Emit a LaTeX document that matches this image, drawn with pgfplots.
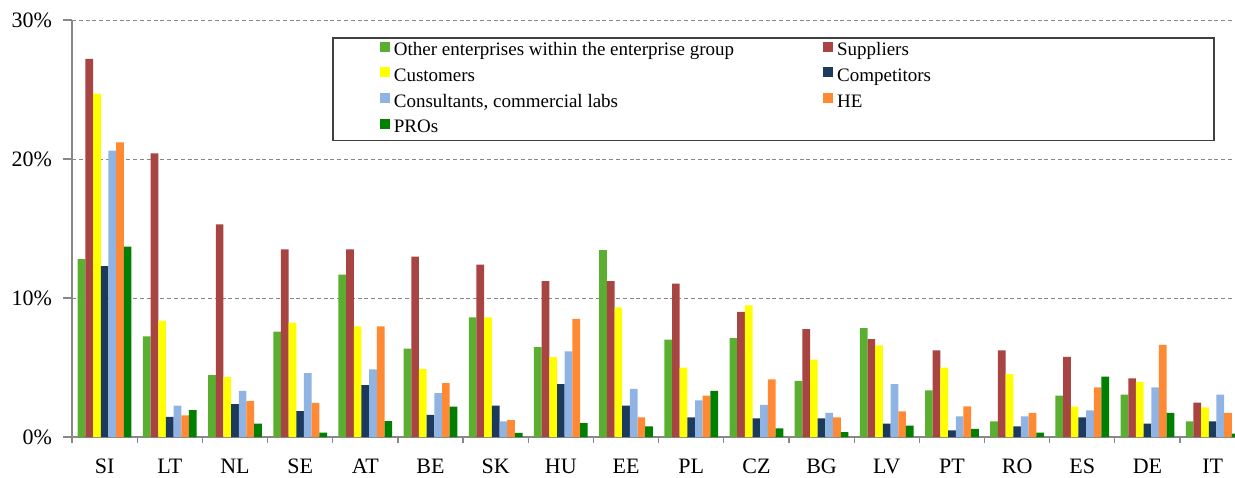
\documentclass[border=0pt]{standalone}
\usepackage{pgfplots}
\usepackage{pgfplotstable}
\pgfplotsset{compat=1.18}
\usepackage{fontspec}
\setmainfont{Liberation Serif}
\definecolor{cA}{RGB}{90,175,48}
\definecolor{cB}{RGB}{168,68,65}
\definecolor{cC}{RGB}{255,255,0}
\definecolor{cD}{RGB}{28,58,94}
\definecolor{cE}{RGB}{143,180,227}
\definecolor{cF}{RGB}{255,138,51}
\definecolor{cG}{RGB}{0,127,0}
\definecolor{axgray}{RGB}{136,136,136}
\pgfplotstableread{
x  other supp cust comp cons he pro
0  12.80 27.20 24.70 12.30 20.60 21.20 13.70
1  7.24 20.40 8.35 1.44 2.25 1.55 1.94
2  4.46 15.30 4.32 2.37 3.31 2.59 0.96
3  7.58 13.50 8.22 1.87 4.60 2.45 0.31
4  11.68 13.50 7.96 3.74 4.86 7.96 1.15
5  6.35 12.97 4.91 1.60 3.16 3.88 2.18
6  8.60 12.40 8.60 2.25 1.12 1.22 0.29
7  6.47 11.22 5.76 3.81 6.16 8.49 1.00
8  13.45 11.22 9.32 2.25 3.47 1.41 0.76
9  7.00 11.03 4.99 1.41 2.63 2.97 3.31
10 7.12 9.01 9.47 1.34 2.32 4.14 0.62
11 4.03 7.77 5.56 1.34 1.73 1.41 0.36
12 7.84 7.05 6.59 0.96 3.81 1.84 0.81
13 3.35 6.23 4.99 0.48 1.48 2.20 0.58
14 1.12 6.23 4.53 0.76 1.48 1.73 0.31
15 2.97 5.76 2.18 1.41 1.92 3.57 4.34
16 3.04 4.22 3.96 0.96 3.57 6.62 1.73
17 1.12 2.47 2.13 1.12 3.04 1.73 0.24
}\datatable
\begin{document}
\begin{tikzpicture}
\path[use as bounding box] (0,0) rectangle (617.5pt,238.5pt);
\begin{axis}[
  at={(36pt,20pt)}, anchor=south west,
  scale only axis, width=581.5pt, height=208.5pt,
  xmin=-0.5, xmax=17.343, ymin=0, ymax=30,
  ybar=0pt, bar width=0.1178,
  axis x line*=bottom, axis y line*=left,
  axis line style={draw=axgray, line width=0.6pt, -},
  tick align=outside,
  xtick={0,...,17},
  xticklabels={SI,LT,NL,SE,AT,BE,SK,HU,EE,PL,CZ,BG,LV,PT,RO,ES,DE,IT},
  minor xtick={-0.5,0.5,...,17.5},
  major x tick style={draw=none},
  minor x tick style={draw=axgray, line width=0.6pt},
  minor tick length=3pt,
  ytick={0,10,20,30},
  major y tick style={draw=axgray, line width=0.6pt},
  major tick length=4.5pt,
  yticklabel={\pgfmathprintnumber{\tick}\%},
  /pgf/number format/assume math mode=true,
  ymajorgrids,
  grid style={dash pattern=on 2pt off 1.4pt, draw=axgray, line width=0.5pt},
  tick label style={font=\fontsize{11}{13}\selectfont},
  xticklabel style={yshift=-3pt},
  yticklabel style={xshift=-2pt},
  legend columns=2,
  legend cell align=left,
  legend image code/.code={\fill[#1] (0pt,-0.5pt) rectangle (5pt,4.5pt);},
  legend style={at={(0.2236,0.9592)}, anchor=north west,
    draw=black!75, line width=0.8pt,
    font=\fontsize{9.5}{11}\selectfont,
    inner xsep=23.5pt, inner ysep=2pt,
    nodes={inner ysep=0pt, text height=7pt, text depth=2pt},
    row sep=3.8pt,
    /tikz/column 2/.style={column sep=42.5pt},
    /tikz/column 4/.style={nodes={text width=163pt}}},
]
\addplot[fill=cA, draw=none] table[x=x, y=other] {\datatable};
\addlegendentry{Other enterprises within the enterprise group}
\addplot[fill=cB, draw=none] table[x=x, y=supp] {\datatable};
\addlegendentry{Suppliers}
\addplot[fill=cC, draw=none] table[x=x, y=cust] {\datatable};
\addlegendentry{Customers}
\addplot[fill=cD, draw=none] table[x=x, y=comp] {\datatable};
\addlegendentry{Competitors}
\addplot[fill=cE, draw=none] table[x=x, y=cons] {\datatable};
\addlegendentry{Consultants, commercial labs}
\addplot[fill=cF, draw=none] table[x=x, y=he] {\datatable};
\addlegendentry{HE}
\addplot[fill=cG, draw=none] table[x=x, y=pro] {\datatable};
\addlegendentry{PROs}
\end{axis}
\end{tikzpicture}
\end{document}
